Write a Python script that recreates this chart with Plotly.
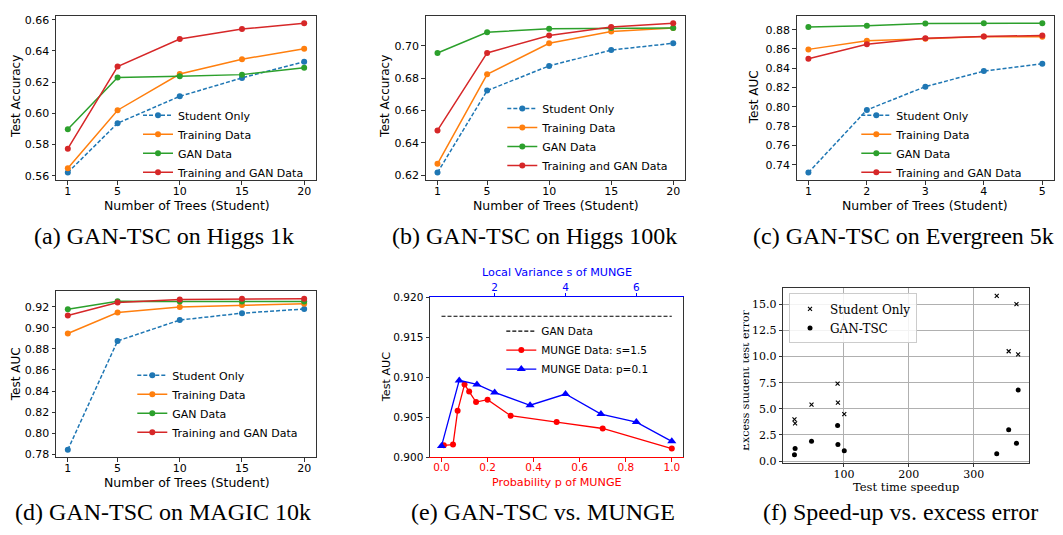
import plotly.graph_objects as go

W, H = 1063, 535

# ---------------- data ----------------
trees = [1, 5, 10, 15, 20]
trees_evergreen = [1, 2, 3, 4, 5]
series_names = ["Student Only", "Training Data", "GAN Data", "Training and GAN Data"]
series_colors = ["#1f77b4", "#ff7f0e", "#2ca02c", "#d62728"]

higgs1k_student = [0.5621, 0.5937, 0.6109, 0.6227, 0.6331]
higgs1k_train = [0.5648, 0.6020, 0.6252, 0.6347, 0.6414]
higgs1k_gan = [0.5898, 0.6229, 0.6238, 0.6248, 0.6292]
higgs1k_both = [0.5774, 0.6300, 0.6476, 0.6540, 0.6577]

higgs100k_student = [0.6216, 0.6723, 0.6876, 0.6974, 0.7016]
higgs100k_train = [0.6270, 0.6824, 0.7016, 0.7088, 0.7110]
higgs100k_gan = [0.6956, 0.7084, 0.7106, 0.7110, 0.7110]
higgs100k_both = [0.6477, 0.6956, 0.7064, 0.7116, 0.7140]

evergreen_student = [0.7320, 0.7969, 0.8210, 0.8371, 0.8448]
evergreen_train = [0.8596, 0.8686, 0.8706, 0.8730, 0.8726]
evergreen_gan = [0.8827, 0.8840, 0.8863, 0.8867, 0.8867]
evergreen_both = [0.8498, 0.8649, 0.8710, 0.8730, 0.8740]

magic_student = [0.7843, 0.8875, 0.9073, 0.9138, 0.9178]
magic_train = [0.8946, 0.9144, 0.9197, 0.9215, 0.9228]
magic_gan = [0.9175, 0.9252, 0.9249, 0.9249, 0.9249]
magic_both = [0.9116, 0.9240, 0.9268, 0.9274, 0.9274]

munge_p = [0.01, 0.05, 0.07, 0.10, 0.12, 0.15, 0.20, 0.30, 0.50, 0.70, 1.00]
munge_p_auc = [0.9015, 0.9016, 0.9058, 0.9091, 0.9082, 0.9069, 0.9072, 0.9052, 0.9044, 0.9036, 0.9011]
munge_s = [0.5, 1, 1.5, 2, 3, 4, 5, 6, 7]
munge_s_auc = [0.9014, 0.9096, 0.9091, 0.9081, 0.9065, 0.9079, 0.9054, 0.9044, 0.9020]
gan_line_p = [0.0, 1.0]
gan_line_auc = [0.9176, 0.9176]

speedup = [23.7, 24.7, 50.0, 90.2, 90.7, 100.5, 335.6, 354.0, 366.0, 368.6]
student_excess = [4.0, 3.6, 5.4, 7.4, 5.6, 4.5, 15.8, 10.5, 15.0, 10.2]
gantsc_excess = [0.6, 1.2, 1.9, 3.4, 1.6, 1.0, 0.7, 3.0, 1.7, 6.8]

ticks_a = [0.56, 0.58, 0.60, 0.62, 0.64, 0.66]
ticks_b = [0.62, 0.64, 0.66, 0.68, 0.70]
ticks_c = [0.74, 0.76, 0.78, 0.80, 0.82, 0.84, 0.86, 0.88]
ticks_d = [0.78, 0.80, 0.82, 0.84, 0.86, 0.88, 0.90, 0.92]
ticks_e_y = [0.900, 0.905, 0.910, 0.915, 0.920]
ticks_e_p = [0.0, 0.2, 0.4, 0.6, 0.8, 1.0]
ticks_e_s = [2, 4, 6]
ticks_f_x = [100, 200, 300]
ticks_f_y = [0.0, 2.5, 5.0, 7.5, 10.0, 12.5, 15.0]

captions = ["(a) GAN-TSC on Higgs 1k", "(b) GAN-TSC on Higgs 100k", "(c) GAN-TSC on Evergreen 5k",
            "(d) GAN-TSC on MAGIC 10k", "(e) GAN-TSC vs. MUNGE", "(f) Speed-up vs. excess error"]

# ---------------- helpers ----------------
def fx(p):
    return p / W

def fy(p):
    return 1 - p / H

SANS = "DejaVu Sans"
SERIF = "DejaVu Serif"
FS = 11
SPINE = "#333333"

def axis(dom, rng, tickvals, fmt, along_x, size=FS, **kw):
    d = dict(
        range=rng, tickvals=tickvals, tickformat=fmt,
        showline=True, linecolor=SPINE, linewidth=1, mirror=True,
        ticks="outside", ticklen=3.5, tickwidth=1, tickcolor=SPINE,
        showgrid=False, zeroline=False, fixedrange=True,
        tickfont=dict(family=SANS, size=size, color="black"),
    )
    if along_x:
        d["domain"] = [fx(dom[0]), fx(dom[1])]
        d["ticklabelstandoff"] = -3
    else:
        d["domain"] = [fy(dom[1]), fy(dom[0])]
    d.update(kw)
    return d

fig = go.Figure()

panels = [
    (trees, [higgs1k_student, higgs1k_train, higgs1k_gan, higgs1k_both],
     (56, 316), (10, 178), [0.05, 20.95], [0.5573, 0.6625], ticks_a, ".2f", trees),
    (trees, [higgs100k_student, higgs100k_train, higgs100k_gan, higgs100k_both],
     (425.7, 685), (10, 178), [0.05, 20.95], [0.6170, 0.7186], ticks_b, ".2f", trees),
    (trees_evergreen, [evergreen_student, evergreen_train, evergreen_gan, evergreen_both],
     (796.7, 1054), (10, 178), [0.8, 5.2], [0.7243, 0.8944], ticks_c, ".2f", trees_evergreen),
    (trees, [magic_student, magic_train, magic_gan, magic_both],
     (56, 316), (291.7, 461.7), [0.05, 20.95], [0.7771, 0.9347], ticks_d, ".2f", trees),
]

legend_pos = [  # text-left x, centre y (px)
    (180, 141), (544.3, 134), (898.3, 141), (174.3, 407)
]

layout = dict(
    width=W, height=H, autosize=False,
    margin=dict(l=0, r=0, t=0, b=0),
    paper_bgcolor="white", plot_bgcolor="white",
    showlegend=True,
    font=dict(family=SANS, size=FS, color="black"),
)

LEG_OFF = 42
annotations = []

for i, (xs, series, xd, yd, xr, yr, yt, fmt, xt) in enumerate(panels):
    n = i + 1
    xa = "xaxis" if n == 1 else f"xaxis{n}"
    ya = "yaxis" if n == 1 else f"yaxis{n}"
    xref = "x" if n == 1 else f"x{n}"
    yref = "y" if n == 1 else f"y{n}"
    leg = "legend" if n == 1 else f"legend{n}"
    layout[xa] = axis(xd, xr, xt, "d", True, anchor=yref)
    layout[ya] = axis(yd, yr, yt, fmt, False, anchor=xref)
    for name, vals, col in zip(series_names, series, series_colors):
        fig.add_trace(go.Scatter(
            x=xs, y=vals, mode="lines+markers", name=name,
            line=dict(color=col, width=1.5, dash="4px,2px" if name == "Student Only" else "solid"),
            marker=dict(size=6, color=col),
            xaxis=xref, yaxis=yref, legend=leg, showlegend=True,
        ))
    tx, ty = legend_pos[i]
    layout[leg] = dict(x=fx(tx - LEG_OFF), y=fy(ty), xanchor="left", yanchor="middle",
                       bgcolor="rgba(0,0,0,0)", borderwidth=0,
                       font=dict(family=SANS, size=FS, color="black"))

# ---------- panel (e) ----------
FS_E = 10.5
layout["xaxis5"] = axis((430, 683.3), [-0.05, 1.05], ticks_e_p, ".1f", True, size=FS_E, anchor="y5",
                        mirror=False, linecolor="red", tickcolor="red",
                        tickfont=dict(family=SANS, size=FS_E, color="red"))
layout["yaxis5"] = axis((297.7, 461.7), [0.900, 0.920], ticks_e_y, ".3f", False, size=FS_E, anchor="x5")
layout["xaxis7"] = axis((430, 683.3), [0.175, 7.325], ticks_e_s, "d", True, size=FS_E, anchor="y5",
                        overlaying="x5", side="top", mirror=False,
                        linecolor="blue", tickcolor="blue",
                        tickfont=dict(family=SANS, size=FS_E, color="blue"))

fig.add_trace(go.Scatter(x=gan_line_p, y=gan_line_auc, mode="lines", name="GAN Data",
                         line=dict(color="black", width=1.2, dash="4px,2px"),
                         xaxis="x5", yaxis="y5", legend="legend5"))
fig.add_trace(go.Scatter(x=munge_p, y=munge_p_auc, mode="lines+markers", name="MUNGE Data: s=1.5",
                         line=dict(color="red", width=1.3), marker=dict(size=6, color="red"),
                         xaxis="x5", yaxis="y5", legend="legend5"))
fig.add_trace(go.Scatter(x=munge_s, y=munge_s_auc, mode="lines+markers", name="MUNGE Data: p=0.1",
                         line=dict(color="blue", width=1.3),
                         marker=dict(size=8, color="blue", symbol="triangle-up"),
                         xaxis="x7", yaxis="y5", legend="legend5"))
layout["legend5"] = dict(x=fx(543.3 - LEG_OFF), y=fy(352), xanchor="left", yanchor="middle",
                         bgcolor="rgba(0,0,0,0)", borderwidth=0,
                         font=dict(family=SANS, size=FS_E, color="black"))

# ---------- panel (f) ----------
serif_font = dict(family=SERIF, size=11, color="black")
layout["xaxis6"] = axis((783.3, 1029.3), [6.5, 385.8], ticks_f_x, "d", True, anchor="y6",
                        showgrid=True, gridcolor="#b0b0b0", gridwidth=0.8, tickfont=serif_font)
layout["yaxis6"] = axis((288.3, 467.3), [-0.16, 16.56], ticks_f_y, ".1f", False, anchor="x6",
                        showgrid=True, gridcolor="#b0b0b0", gridwidth=0.8, tickfont=serif_font)
fig.add_trace(go.Scatter(x=speedup, y=student_excess, mode="markers", name="Student Only",
                         marker=dict(symbol="x-thin", size=4, color="black",
                                     line=dict(width=1.1, color="black")),
                         xaxis="x6", yaxis="y6", legend="legend6"))
fig.add_trace(go.Scatter(x=speedup, y=gantsc_excess, mode="markers", name="GAN-TSC",
                         marker=dict(symbol="circle", size=5, color="black"),
                         xaxis="x6", yaxis="y6", legend="legend6"))
layout["legend6"] = dict(x=fx(789), y=fy(294), xanchor="left", yanchor="top",
                         bgcolor="rgba(255,255,255,0.85)", bordercolor="#cccccc", borderwidth=1,
                         font=dict(family=SERIF, size=12, color="black"))

# ---------- text annotations ----------
def ann(text, x, y, size=12, family=SANS, color="black", angle=0):
    annotations.append(dict(text=text, x=fx(x), y=fy(y), xref="paper", yref="paper",
                            xanchor="center", yanchor="middle", showarrow=False,
                            textangle=angle, font=dict(family=family, size=size, color=color)))

# axis titles
XT = 12.5
ann("Test Accuracy", 16, 93, angle=-90)
ann("Number of Trees (Student)", 187, 204, size=XT)
ann("Test Accuracy", 385, 93, angle=-90)
ann("Number of Trees (Student)", 556, 204, size=XT)
ann("Test AUC", 754.3, 93, angle=-90)
ann("Number of Trees (Student)", 925, 204, size=XT)
ann("Test AUC", 16, 376.7, angle=-90)
ann("Number of Trees (Student)", 187, 487.5, size=XT)
ann("Test AUC", 386.7, 380, size=11.2, angle=-90)
ann("Probability p of MUNGE", 556.7, 487, size=11.2, color="red")
ann("Local Variance s of MUNGE", 556.7, 273, size=11.2, color="blue")
ann("Test time speedup", 906, 492.5, size=11.5, family=SERIF)
ann("Excess student test error", 745.5, 383, size=11, family=SERIF, angle=-90)
# the reference crops the left side of panel (f)'s y title
annotations.append(dict(text=" ", x=fx(736.5), y=fy(383), xref="paper", yref="paper",
                        xanchor="center", yanchor="middle", showarrow=False,
                        width=13, height=190, bgcolor="white", borderpad=0,
                        font=dict(size=4)))

# captions
cap_pos = [(163.5, 235), (534, 235), (903, 235), (163, 518), (543, 518), (900, 518)]
for txt, (cx, cy) in zip(captions, cap_pos):
    ann(txt, cx, cy, size=24, family="Liberation Serif")

layout["annotations"] = annotations
fig.update_layout(**layout)

fig.write_html("out.html", config={"displayModeBar": False},
               post_script="document.body.style.margin='0';document.body.style.padding='0';")
